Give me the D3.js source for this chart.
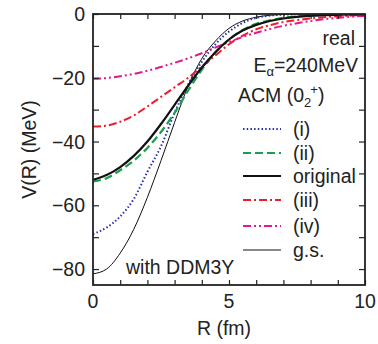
<!DOCTYPE html>
<html>
<head>
<meta charset="utf-8">
<script src="https://cdn.jsdelivr.net/npm/d3@7"></script>
<style>
  body { margin: 0; background: #fff; }
  text { font-family: "Liberation Sans", Arial, sans-serif; fill: #222; }
</style>
</head>
<body>
<div id="chart"></div>
<script>
// radius grid (fm)
const R = [0, 0.5, 1, 1.5, 2, 2.5, 3, 3.5, 4, 4.5, 5, 5.5, 6, 6.5, 7, 7.5, 8, 8.5, 9, 9.5, 10];

// potentials (MeV)
const v_i    = [-69, -67, -63.5, -58, -49.5, -41.5, -31, -22, -15, -9.5, -5.5, -2.8, -1.2, -0.5, -0.2, -0.08, 0, 0, 0, 0, 0];
const v_ii   = [-52.5, -51.5, -49, -46, -42, -37, -31, -24, -17.5, -12, -8, -5, -3.1, -2, -1.2, -0.75, -0.45, -0.3, -0.2, -0.1, -0.05];
const v_orig = [-52, -50.5, -48, -44.5, -40, -34.5, -28.5, -22.5, -16.8, -12, -8, -5.2, -3.4, -2.2, -1.4, -0.9, -0.6, -0.4, -0.25, -0.15, -0.1];
const v_iii  = [-35.3, -35, -33.8, -31.8, -29, -26, -23, -20, -16.5, -13, -9.5, -6.8, -4.8, -3.5, -2.5, -1.9, -1.4, -1.0, -0.7, -0.5, -0.35];
const v_iv   = [-20.3, -20.1, -19.5, -18.8, -17.8, -16.6, -15.3, -13.9, -12.3, -10.5, -8.8, -7.2, -5.9, -4.7, -3.7, -2.9, -2.2, -1.6, -1.2, -0.85, -0.6];
const v_gs   = [-81.5, -80, -75, -67.5, -57.5, -46, -34, -22.5, -14, -8.5, -4.5, -2.2, -1.0, -0.4, -0.15, -0.05, 0, 0, 0, 0, 0];

const labels = ["(i)", "(ii)", "original", "(iii)", "(iv)", "g.s."];
const xTicks = [0, 5, 10];
const yTicks = [0, -20, -40, -60, -80];

const series = [
  { name: labels[0], v: v_i,    color: "#2a2fb0", width: 2,   dash: "1.5,2.2" },
  { name: labels[1], v: v_ii,   color: "#19a04f", width: 2.2, dash: "8,4" },
  { name: labels[2], v: v_orig, color: "#111",    width: 2.2, dash: null },
  { name: labels[3], v: v_iii,  color: "#ec1c2a", width: 2,   dash: "8,3,2,3" },
  { name: labels[4], v: v_iv,   color: "#e4198b", width: 2,   dash: "8,3,2,3,2,3" },
  { name: labels[5], v: v_gs,   color: "#111",    width: 1,   dash: null }
];

const W = 378, H = 344;
const mLeft = 93, mRight = 365, mTop = 14, mBottom = 285;
const fs = 19.5;

const svg = d3.select("#chart").append("svg")
  .attr("width", W).attr("height", H);

const x = d3.scaleLinear().domain([0, 10]).range([mLeft, mRight]);
const y = d3.scaleLinear().domain([-85, 0]).range([mBottom, mTop]);

// curves first, clipped to the frame
svg.append("clipPath").attr("id", "clip")
  .append("rect").attr("x", mLeft).attr("y", mTop)
  .attr("width", mRight - mLeft).attr("height", mBottom - mTop);

const line = d3.line()
  .x(function (d) { return x(d[0]); })
  .y(function (d) { return y(d[1]); })
  .curve(d3.curveMonotoneX);

const order = [5, 0, 1, 3, 4, 2];
order.forEach(function (k) {
  const s = series[k];
  svg.append("path")
    .datum(R.map(function (r, i) { return [r, s.v[i]]; }))
    .attr("clip-path", "url(#clip)")
    .attr("fill", "none")
    .attr("stroke", s.color)
    .attr("stroke-width", s.width)
    .attr("stroke-dasharray", s.dash)
    .attr("d", line);
});

// axes: ticks inward on all four sides
const xMinor = d3.range(0, 11, 1);
const yMinor = d3.range(-80, 1, 10);

svg.append("g").attr("transform", `translate(0,${mBottom})`)
  .call(d3.axisTop(x).tickValues(xMinor).tickSize(5).tickFormat(""));
svg.append("g").attr("transform", `translate(0,${mTop})`)
  .call(d3.axisBottom(x).tickValues(xMinor).tickSize(5).tickFormat(""));
svg.append("g").attr("transform", `translate(${mLeft},0)`)
  .call(d3.axisRight(y).tickValues(yMinor).tickSize(6).tickFormat(""));
svg.append("g").attr("transform", `translate(${mRight},0)`)
  .call(d3.axisLeft(y).tickValues(yMinor).tickSize(6).tickFormat(""));

svg.selectAll(".domain").remove();
svg.selectAll(".tick line").attr("stroke", "#222").attr("stroke-width", 1.2);

svg.append("rect")
  .attr("x", mLeft).attr("y", mTop)
  .attr("width", mRight - mLeft).attr("height", mBottom - mTop)
  .attr("fill", "none").attr("stroke", "#222").attr("stroke-width", 1.8);

// tick labels
svg.selectAll(".xl").data(xTicks).enter().append("text")
  .attr("x", function (d) { return x(d); })
  .attr("y", 308)
  .attr("text-anchor", "middle")
  .attr("font-size", fs)
  .text(function (d) { return d; });

svg.selectAll(".yl").data(yTicks).enter().append("text")
  .attr("x", 85)
  .attr("y", function (d) { return y(d) + 7; })
  .attr("text-anchor", "end")
  .attr("font-size", fs)
  .text(function (d) { return d === 0 ? "0" : "\u2212" + Math.abs(d); });

// axis titles
svg.append("text")
  .attr("x", (mLeft + mRight) / 2 - 5).attr("y", 335)
  .attr("text-anchor", "middle").attr("font-size", fs)
  .text("R (fm)");

svg.append("text")
  .attr("transform", `translate(36,${(mTop + mBottom) / 2}) rotate(-90)`)
  .attr("text-anchor", "middle").attr("font-size", fs)
  .text("V(R) (MeV)");

// annotations
svg.append("text").attr("x", 355).attr("y", 45)
  .attr("text-anchor", "end").attr("font-size", fs).text("real");

const e = svg.append("text").attr("x", 358).attr("y", 72)
  .attr("text-anchor", "end").attr("font-size", fs);
e.append("tspan").text("E");
e.append("tspan").attr("font-size", 13).attr("dy", 4).text("\u03b1");
e.append("tspan").attr("dy", -4).text("=240MeV");

const a = svg.append("text").attr("x", 238).attr("y", 102).attr("font-size", fs);
a.append("tspan").text("ACM (0");
a.append("tspan").attr("font-size", 13).attr("dy", 5).text("2");
a.append("tspan").attr("font-size", 13).attr("dx", -1).attr("dy", -13).text("+");
a.append("tspan").attr("dy", 8).text(")");

svg.append("text").attr("x", 126).attr("y", 274)
  .attr("font-size", fs).text("with DDM3Y");

// legend
const legendY = [129, 153, 176, 200, 226, 250];
series.forEach(function (s, i) {
  svg.append("line")
    .attr("x1", 243).attr("x2", 281)
    .attr("y1", legendY[i]).attr("y2", legendY[i])
    .attr("stroke", s.color)
    .attr("stroke-width", s.width)
    .attr("stroke-dasharray", s.dash);
  svg.append("text")
    .attr("x", 293).attr("y", legendY[i] + 7)
    .attr("font-size", fs)
    .text(s.name);
});
</script>
</body>
</html>
